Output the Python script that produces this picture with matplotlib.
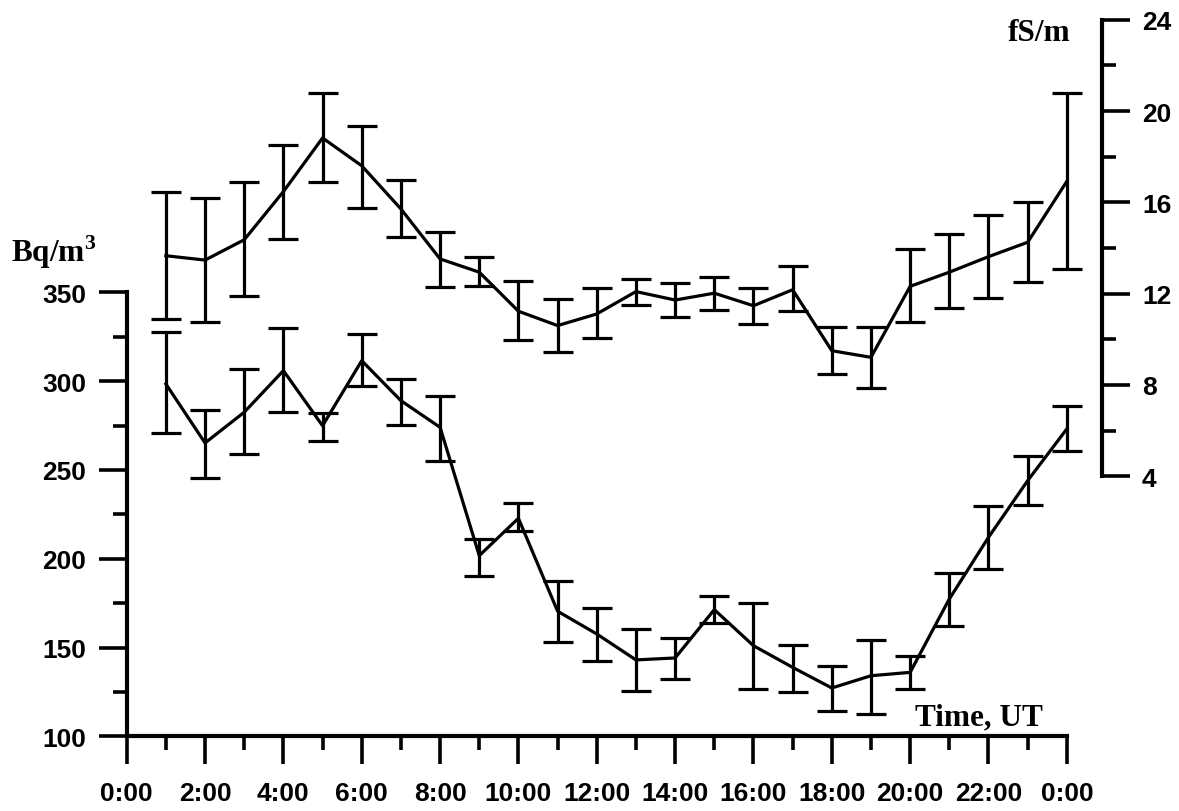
import numpy as np
import matplotlib
matplotlib.use("Agg")
import matplotlib.pyplot as plt

plt.rcParams["mathtext.fontset"] = "custom"
plt.rcParams["mathtext.bf"] = "Liberation Serif:bold"
plt.rcParams["mathtext.rm"] = "Liberation Serif:bold"

hours = np.arange(1, 25)

# radon activity, Bq/m^3 (mean, lower and upper whisker)
radon = [298.4, 265.2, 282.5, 305.9, 274.9, 311.5, 289.0, 274.0, 201.8, 222.8,
         170.5, 157.7, 143.1, 144.2, 171.4, 151.1, 138.9, 127.3, 134.2, 136.1,
         177.4, 212.1, 244.0, 273.1]
radon_lo = [270.8, 245.7, 259.0, 282.5, 266.1, 297.4, 275.5, 255.2, 190.5, 215.8,
            153.4, 142.5, 125.4, 132.4, 163.7, 126.7, 124.9, 114.5, 112.7, 126.7,
            162.0, 194.3, 230.3, 260.8]
radon_hi = [327.5, 283.8, 306.8, 329.9, 281.9, 326.4, 301.2, 291.5, 211.2, 231.4,
            187.7, 172.2, 160.5, 155.3, 179.2, 175.0, 151.5, 139.8, 154.5, 145.5,
            192.0, 229.9, 258.0, 286.2]

# air conductivity, fS/m
cond = [13.66, 13.47, 14.36, 16.47, 18.82, 17.60, 15.71, 13.52, 12.94, 11.23,
        10.60, 11.11, 12.09, 11.72, 12.02, 11.47, 12.17, 9.50, 9.21, 12.32,
        12.94, 13.62, 14.25, 16.92]
cond_lo = [10.89, 10.75, 11.91, 14.39, 16.88, 15.74, 14.47, 12.30, 12.35, 9.98,
           9.46, 10.04, 11.52, 10.96, 11.28, 10.67, 11.23, 8.47, 7.87, 10.75,
           11.36, 11.81, 12.50, 13.08]
cond_hi = [16.44, 16.18, 16.88, 18.51, 20.79, 19.34, 16.99, 14.71, 13.62, 12.54,
           11.77, 12.23, 12.64, 12.45, 12.74, 12.23, 13.20, 10.53, 10.53, 13.96,
           14.61, 15.45, 16.03, 20.79]

xtick_pos = list(range(0, 25, 2))
xtick_labels = [f"{h % 24}:00" for h in xtick_pos]

radon = np.array(radon)
cond = np.array(cond)
radon_err = [radon - np.array(radon_lo), np.array(radon_hi) - radon]
cond_err = [cond - np.array(cond_lo), np.array(cond_hi) - cond]

tick_font = dict(family="Liberation Sans", weight="bold", size=19)
label_font = dict(family="Liberation Serif", weight="bold", size=22.5)

fig = plt.figure(figsize=(11.79, 8.12), dpi=100)
ax = fig.add_axes([0.10746, 0.09175, 0.82698, 0.88276])
ax2 = ax.twinx()

eb = dict(color="black", lw=2.3, elinewidth=2.3, capsize=10.5, capthick=2.3,
          clip_on=False)
ax.errorbar(hours, radon, yerr=radon_err, **eb)
ax2.errorbar(hours, cond, yerr=cond_err, **eb)

ax.set_xlim(0, 24.89)
ax.set_ylim(100, 503.4)
ax2.set_ylim(-7.40, 24)

for a in (ax, ax2):
    a.set_facecolor("none")
    a.spines["top"].set_visible(False)
ax.spines["right"].set_visible(False)
ax2.spines["left"].set_visible(False)
ax2.spines["bottom"].set_visible(False)

ax.spines["left"].set_bounds(100, 350)
ax.spines["bottom"].set_bounds(0, 24)
ax2.spines["right"].set_bounds(4, 24)
for sp in (ax.spines["left"], ax.spines["bottom"], ax2.spines["right"]):
    sp.set_linewidth(3.0)
    sp.set_capstyle("projecting")

ax.set_xticks(xtick_pos)
ax.set_xticklabels(xtick_labels, fontdict=tick_font)
ax.set_xticks(range(1, 24, 2), minor=True)
ax.set_yticks(range(100, 351, 50))
ax.set_yticklabels([str(v) for v in range(100, 351, 50)], fontdict=tick_font)
ax.set_yticks(range(125, 351, 50), minor=True)
ax2.set_yticks(range(4, 25, 4))
ax2.set_yticklabels([str(v) for v in range(4, 25, 4)], fontdict=tick_font)
ax2.set_yticks(range(6, 23, 4), minor=True)

ax.tick_params(axis="x", which="major", direction="out", length=20, width=2.6, pad=12)
ax.tick_params(axis="x", which="minor", direction="out", length=10, width=2.6)
ax.tick_params(axis="y", which="major", direction="out", length=20, width=2.6, pad=9)
ax.tick_params(axis="y", which="minor", direction="out", length=10, width=2.6)
ax2.tick_params(axis="y", which="major", direction="out", length=20, width=2.6, pad=9)
ax2.tick_params(axis="y", which="minor", direction="out", length=10, width=2.6)

W, H = fig.get_size_inches() * fig.dpi
fig.text(11 / W, 1 - 262 / H, r"Bq/m$^\mathbf{3}$", ha="left", va="baseline",
         fontdict=label_font)
fig.text(1008 / W, 1 - 41 / H, "fS/m", ha="left", va="baseline",
         fontdict=label_font)
fig.text(915 / W, 1 - 725 / H, "Time, UT", ha="left", va="baseline",
         fontdict=label_font)

fig.savefig("out.png", dpi=100)
